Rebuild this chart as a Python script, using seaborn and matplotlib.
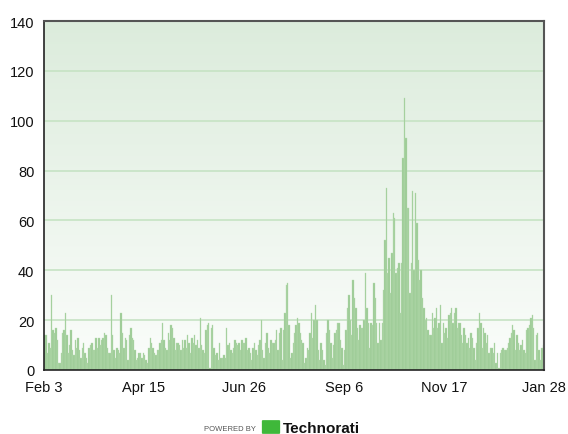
import numpy as np
import pandas as pd
import matplotlib
matplotlib.use("Agg")
import matplotlib.pyplot as plt
from matplotlib.patches import FancyBboxPatch
import seaborn as sns

# daily counts, Feb 3 -> Jan 28 (one value per day)
feb_mar = [14, 14, 7, 11, 9, 30, 16, 15, 17, 12,
           3, 3, 7, 15, 16, 23, 14, 7, 10, 16,
           8, 6, 12, 9, 13, 8, 5, 9, 11, 7,
           5, 3, 9, 10, 11, 8, 8, 13, 9, 13,
           10, 12, 13, 15, 14, 9, 7, 7, 30, 14,
           8, 5, 9, 8, 7]
apr_may = [23, 15, 9, 13, 12, 4, 14, 17, 13, 12,
           8, 4, 5, 7, 7, 5, 7, 6, 4, 3,
           9, 13, 11, 9, 7, 6, 8, 8, 11, 12,
           19, 12, 9, 8, 15, 12, 18, 17, 13, 8,
           11, 11, 10, 8, 12, 9, 12, 9, 14, 11,
           7, 13, 11, 14, 10, 12, 9]
jun_jul = [21, 10, 8, 7, 16, 18, 19, 1,
           17, 18, 9, 6, 7, 4, 11, 5, 5, 6,
           5, 17, 10, 11, 8, 7, 9, 12, 11, 10,
           11, 8, 12, 11, 11, 13, 8, 9, 7, 4,
           9, 11, 8, 6, 10, 12, 20, 8, 5, 11,
           15, 9, 7, 12, 11, 11]
jul_sep = [12, 16, 8, 15, 17, 4, 16, 23, 34, 35,
           18, 5, 7, 11, 15, 18, 21, 19, 15, 12,
           11, 3, 5, 9, 8, 15, 23, 13, 20, 26,
           20, 8, 4, 11, 8, 4, 2, 15, 20, 16,
           11, 5, 10, 15, 16, 19, 19, 12, 9, 2,
           8, 16, 25, 30, 20]
sep_nov = [14, 36, 29, 25, 17, 12, 18, 17, 17, 20,
           39, 25, 19, 9, 19, 18, 35, 29, 19, 11,
           19, 12, 19, 32, 52, 73, 39, 45, 31, 47,
           63, 61, 39, 41, 43, 23, 43, 85, 109, 93,
           65, 65, 31, 43, 72, 40, 71, 59, 44, 36,
           40, 29, 25, 20, 21, 16, 14, 14]
nov_dec = [23, 17, 21, 25, 17, 19, 26, 11, 19, 15,
           17, 13, 22, 23, 25, 19, 23, 25, 17, 19,
           19, 14, 11, 17, 14, 11, 13, 9, 15, 13,
           9, 4, 11, 17, 23, 19, 9, 17, 15, 11,
           14, 7, 9, 9, 7, 11, 3, 7, 1, 7,
           8, 9, 8, 8]
dec_jan = [9, 11, 13, 15, 18, 16, 8, 14, 11, 8,
           10, 12, 8, 7, 16, 17, 18, 21, 22, 17,
           4, 14, 15, 8, 4, 9, 10]

tick_labels = ["Feb 3", "Apr 15", "Jun 26", "Sep 6", "Nov 17", "Jan 28"]
y_ticks = [0, 20, 40, 60, 80, 100, 120, 140]

counts = feb_mar + apr_may + jun_jul + jul_sep + sep_nov + nov_dec + dec_jan
n_days = len(counts)
df = pd.DataFrame({"day": np.arange(n_days) + 0.5, "count": counts})

sns.set_style("white")
plt.rcParams["font.family"] = ["Liberation Sans", "DejaVu Sans"]

fig = plt.figure(figsize=(5.68, 4.35), dpi=100)
ax = fig.add_axes([44 / 568, 1 - 371 / 435, 500 / 568, 349 / 435])

# background gradient, pale green on top fading to white
grad = np.linspace(0, 1, 256).reshape(-1, 1)
cmap = matplotlib.colors.LinearSegmentedColormap.from_list(
    "bg", ["#fbfdfb", "#dcecdc"])
ax.imshow(grad, aspect="auto", cmap=cmap, origin="lower",
          extent=[0, n_days, 0, 140], zorder=0)

for y in y_ticks[1:-1]:
    ax.axhline(y, color="#c6e3c4", lw=1.2, zorder=1)

sns.histplot(data=df, x="day", weights="count", binwidth=1, binrange=(0, n_days),
             color="#9ccb95", alpha=1, edgecolor="#b7dcb1", linewidth=0.25,
             ax=ax, zorder=2)

ax.set_xlim(0, n_days)
ax.set_ylim(0, 140)
ax.set_xticks(np.linspace(0, n_days, len(tick_labels)))
ax.set_xticklabels(tick_labels)
ax.set_yticks(y_ticks)
ax.set_xlabel("")
ax.set_ylabel("")
ax.tick_params(axis="both", direction="out", length=5, width=1,
               color="#222222", labelsize=10.5, labelcolor="#111111", pad=2)

for side in ["left", "bottom"]:
    ax.spines[side].set_color("#222222")
    ax.spines[side].set_linewidth(1.2)
for side in ["top", "right"]:
    ax.spines[side].set_color("#555555")
    ax.spines[side].set_linewidth(1.5)
    ax.spines[side].set_visible(True)

# footer
fig.text(256 / 568, 1 - 430 / 435, "POWERED BY", fontsize=5.5, color="#555555",
         ha="right", va="center")
fig.patches.append(FancyBboxPatch((263 / 568, 1 - 434 / 435), 16 / 568, 12 / 435,
                                  boxstyle="round,pad=0.002", transform=fig.transFigure,
                                  facecolor="#3fb83a", edgecolor="none"))
fig.text(283 / 568, 1 - 433 / 435, "Technorati", fontsize=11, fontweight="bold",
         color="#111111", ha="left", va="baseline")

fig.savefig("out.png", dpi=100)
